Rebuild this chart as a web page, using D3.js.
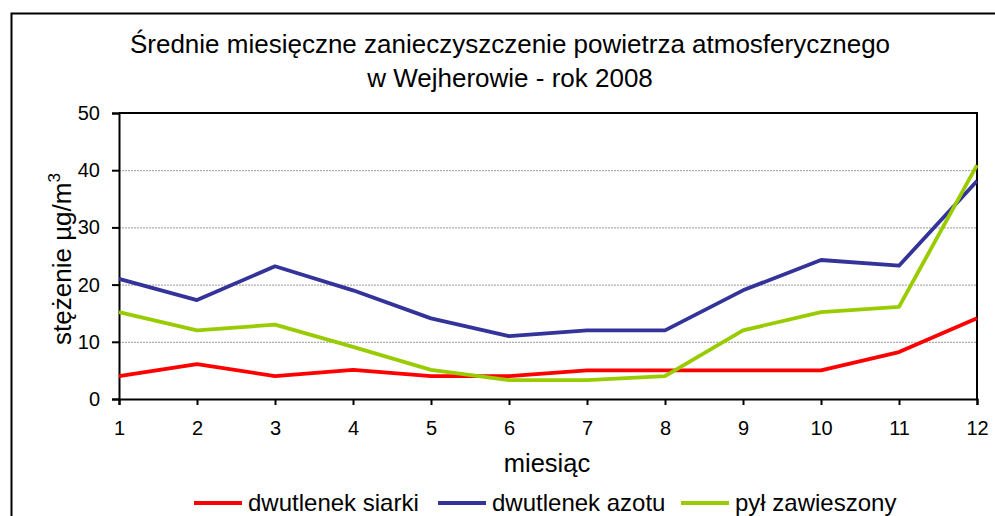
<!DOCTYPE html>
<html>
<head>
<meta charset="utf-8">
<script src="https://cdn.jsdelivr.net/npm/d3@7"></script>
<style>
body { margin: 0; background: #fff; }
text { font-family: "Liberation Sans", Arial, sans-serif; fill: #000; }
</style>
</head>
<body>
<script>
// data
var months = [1, 2, 3, 4, 5, 6, 7, 8, 9, 10, 11, 12];
var so2 = [4, 6.1, 4, 5.1, 4, 4, 5, 5, 5, 5, 8.2, 14.1];
var no2 = [21, 17.3, 23.2, 19, 14.1, 11, 12, 12, 19, 24.3, 23.3, 38.1];
var pm = [15.2, 12, 13, 9.1, 5.1, 3.3, 3.3, 4, 12, 15.2, 16.1, 40.9];
var yTicks = [0, 10, 20, 30, 40, 50];
var seriesNames = ["dwutlenek siarki", "dwutlenek azotu", "pył zawieszony"];
var seriesColors = ["#ff0000", "#333399", "#99cc00"];

var width = 995, height = 516;
var plot = {left: 119, top: 113, right: 977, bottom: 399};

var svg = d3.select("body").append("svg")
	.attr("width", width)
	.attr("height", height);

// outer frame (runs off the right and bottom edges)
svg.append("rect")
	.attr("x", 11.5).attr("y", 13.5)
	.attr("width", 1000).attr("height", 600)
	.attr("fill", "none").attr("stroke", "#000").attr("stroke-width", 2);

var x = d3.scaleLinear().domain([1, 12]).range([plot.left, plot.right]);
var y = d3.scaleLinear().domain([0, 50]).range([plot.bottom, plot.top]);

// grid
svg.append("g").selectAll("line")
	.data(yTicks.filter(function(d) { return d > 0 && d < 50; }))
	.enter().append("line")
	.attr("x1", plot.left).attr("x2", plot.right)
	.attr("y1", function(d) { return y(d) + 0.5; })
	.attr("y2", function(d) { return y(d) + 0.5; })
	.attr("stroke", "#999").attr("stroke-width", 1)
	.attr("stroke-dasharray", "2,1");

// plot border top/right
svg.append("path")
	.attr("d", "M" + plot.left + "," + plot.top + "H" + plot.right + "V" + plot.bottom)
	.attr("fill", "none").attr("stroke", "#000").attr("stroke-width", 2);

// axes
var yAxis = svg.append("g")
	.attr("transform", "translate(" + plot.left + ",0)")
	.call(d3.axisLeft(y).tickValues(yTicks).tickSize(7).tickPadding(12));
var xAxis = svg.append("g")
	.attr("transform", "translate(0," + plot.bottom + ")")
	.call(d3.axisBottom(x).tickValues(months).tickSize(6).tickPadding(16));

[yAxis, xAxis].forEach(function(a) {
	a.attr("font-size", null).attr("font-family", null);
	a.select(".domain").attr("stroke", "#000").attr("stroke-width", 2);
	a.selectAll(".tick line").attr("stroke", "#000").attr("stroke-width", 2);
	a.selectAll(".tick text")
		.style("font-size", "20px")
		.attr("fill", "#000");
});

// lines
var line = d3.line()
	.x(function(d, i) { return x(months[i]); })
	.y(function(d) { return y(d); });

[so2, no2, pm].forEach(function(s, i) {
	svg.append("path")
		.datum(s)
		.attr("d", line)
		.attr("fill", "none")
		.attr("stroke", seriesColors[i])
		.attr("stroke-width", 3.8)
		.attr("stroke-linejoin", "round");
});

// title
var title = svg.append("text")
	.attr("text-anchor", "middle")
	.style("font-size", "26px");
title.append("tspan").attr("x", 510).attr("y", 53)
	.text("Średnie miesięczne zanieczyszczenie powietrza atmosferycznego");
title.append("tspan").attr("x", 510).attr("y", 87)
	.text("w Wejherowie - rok 2008");

// axis titles
svg.append("text")
	.attr("x", 547).attr("y", 472)
	.attr("text-anchor", "middle")
	.style("font-size", "25.5px")
	.text("miesiąc");

var yLabel = svg.append("text")
	.attr("transform", "translate(71,259) rotate(-90)")
	.attr("text-anchor", "middle")
	.style("font-size", "26px");
yLabel.append("tspan").text("stężenie µg/m");
yLabel.append("tspan").style("font-size", "17px").attr("dy", -11).text("3");

// legend
var legendX = [194, 438, 681];
var legend = svg.append("g").selectAll("g")
	.data(seriesNames)
	.enter().append("g")
	.attr("transform", function(d, i) { return "translate(" + legendX[i] + ",503)"; });
legend.append("line")
	.attr("x1", 0).attr("x2", 48)
	.attr("stroke", function(d, i) { return seriesColors[i]; })
	.attr("stroke-width", 3.8);
legend.append("text")
	.attr("x", 54).attr("y", 8)
	.style("font-size", "24px")
	.text(function(d) { return d; });
</script>
</body>
</html>
